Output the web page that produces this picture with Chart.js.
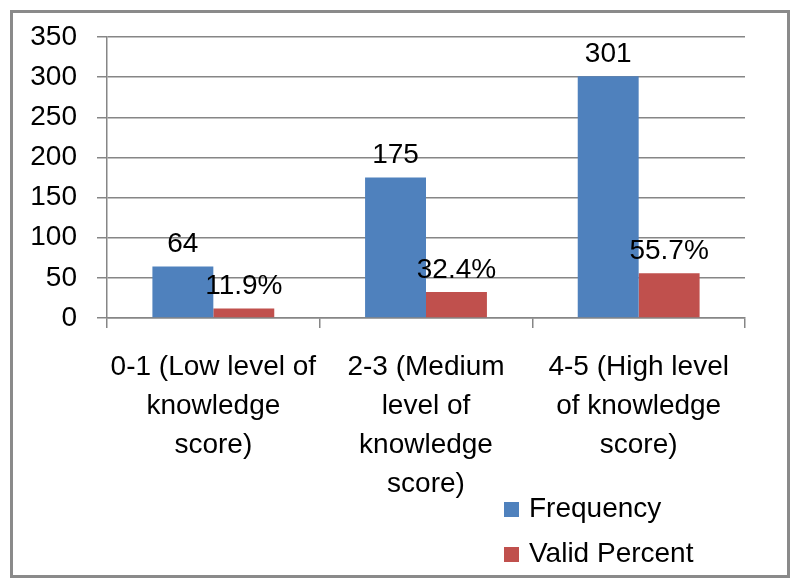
<!DOCTYPE html>
<html>
<head>
<meta charset="utf-8">
<script src="https://cdn.jsdelivr.net/npm/chart.js"></script>
<style>
    body { margin: 0; background: #fff; }
    #khung { position: absolute; left: 10px; top: 10px; width: 774px; height: 562px; border: 3px solid #8a8a8a; }
    #wrap { position: absolute; left: 0; top: 0; width: 800px; height: 588px; }
</style>
</head>
<body>
<div id="khung"></div>
<div id="wrap"><canvas id="canvasDoThi" width="800" height="588"></canvas></div>
<script>
// du lieu
var nhomDiem = [
    ["0-1 (Low level of", "knowledge", "score)"],
    ["2-3 (Medium", "level of", "knowledge", "score)"],
    ["4-5 (High level", "of knowledge", "score)"]
];
var tanSo = [64, 175, 301];
var phanTram = [11.9, 32.4, 55.7];
var yTicks = [0, 50, 100, 150, 200, 250, 300, 350];
var tenSeries = ["Frequency", "Valid Percent"];
var mauSeries = ["#4F81BD", "#C0504D"];

var FONT = "'Liberation Sans', Arial, sans-serif";
var CO = 28;

// nhan gia tri tren cot
var nhanCot = {
    id: 'nhanCot',
    afterDatasetsDraw: function (chart) {
        var ctx = chart.ctx;
        ctx.save();
        ctx.font = CO + 'px ' + FONT;
        ctx.fillStyle = '#000';
        ctx.textAlign = 'center';
        ctx.textBaseline = 'middle';
        chart.data.datasets.forEach(function (ds, i) {
            var meta = chart.getDatasetMeta(i);
            meta.data.forEach(function (bar, j) {
                var v = ds.data[j];
                var txt = i == 1 ? v.toFixed(1) + '%' : String(v);
                ctx.fillText(txt, bar.x, bar.y - 22);
            });
        });
        ctx.restore();
    }
};

// chu thich ve tay
var chuThich = {
    id: 'chuThich',
    afterDraw: function (chart) {
        var ctx = chart.ctx;
        ctx.save();
        ctx.font = CO + 'px ' + FONT;
        ctx.textAlign = 'left';
        ctx.textBaseline = 'middle';
        chart.data.datasets.forEach(function (ds, i) {
            var y = 509 + i * 45;
            ctx.fillStyle = ds.backgroundColor;
            ctx.fillRect(504, y - 7, 15, 15);
            ctx.fillStyle = '#000';
            ctx.fillText(ds.label, 529, y);
        });
        ctx.restore();
    }
};

function VeDoThi() {
    new Chart("canvasDoThi", {
        type: "bar",
        data: {
            labels: nhomDiem,
            datasets: [
                { label: tenSeries[0], data: tanSo, backgroundColor: mauSeries[0] },
                { label: tenSeries[1], data: phanTram, backgroundColor: mauSeries[1] }
            ]
        },
        options: {
            responsive: false,
            animation: false,
            layout: { padding: { left: 0, top: 37, right: 55, bottom: 0 } },
            datasets: { bar: { categoryPercentage: 0.573, barPercentage: 1.0 } },
            plugins: {
                legend: { display: false },
                tooltip: { enabled: false }
            },
            scales: {
                x: {
                    grid: { display: true, drawOnChartArea: false, drawTicks: true, tickLength: 10, color: '#868686', lineWidth: 1.5 },
                    border: { display: true, color: '#868686', width: 1.5 },
                    ticks: {
                        color: '#000',
                        padding: 20,
                        maxRotation: 0,
                        autoSkip: false,
                        font: { family: FONT, size: CO, lineHeight: '39px' }
                    },
                    afterFit: function (s) { s.height = 270; }
                },
                y: {
                    min: 0,
                    max: yTicks[yTicks.length - 1],
                    afterBuildTicks: function (s) { s.ticks = yTicks.map(function (v) { return { value: v }; }); },
                    grid: { color: '#868686', lineWidth: 1.5, tickLength: 10 },
                    border: { display: true, color: '#868686', width: 1.5 },
                    ticks: {
                        color: '#000',
                        padding: 20,
                        font: { family: FONT, size: CO }
                    },
                    afterFit: function (s) { s.width = 107; }
                }
            }
        },
        plugins: [nhanCot, chuThich]
    });
}

VeDoThi();
</script>
</body>
</html>
